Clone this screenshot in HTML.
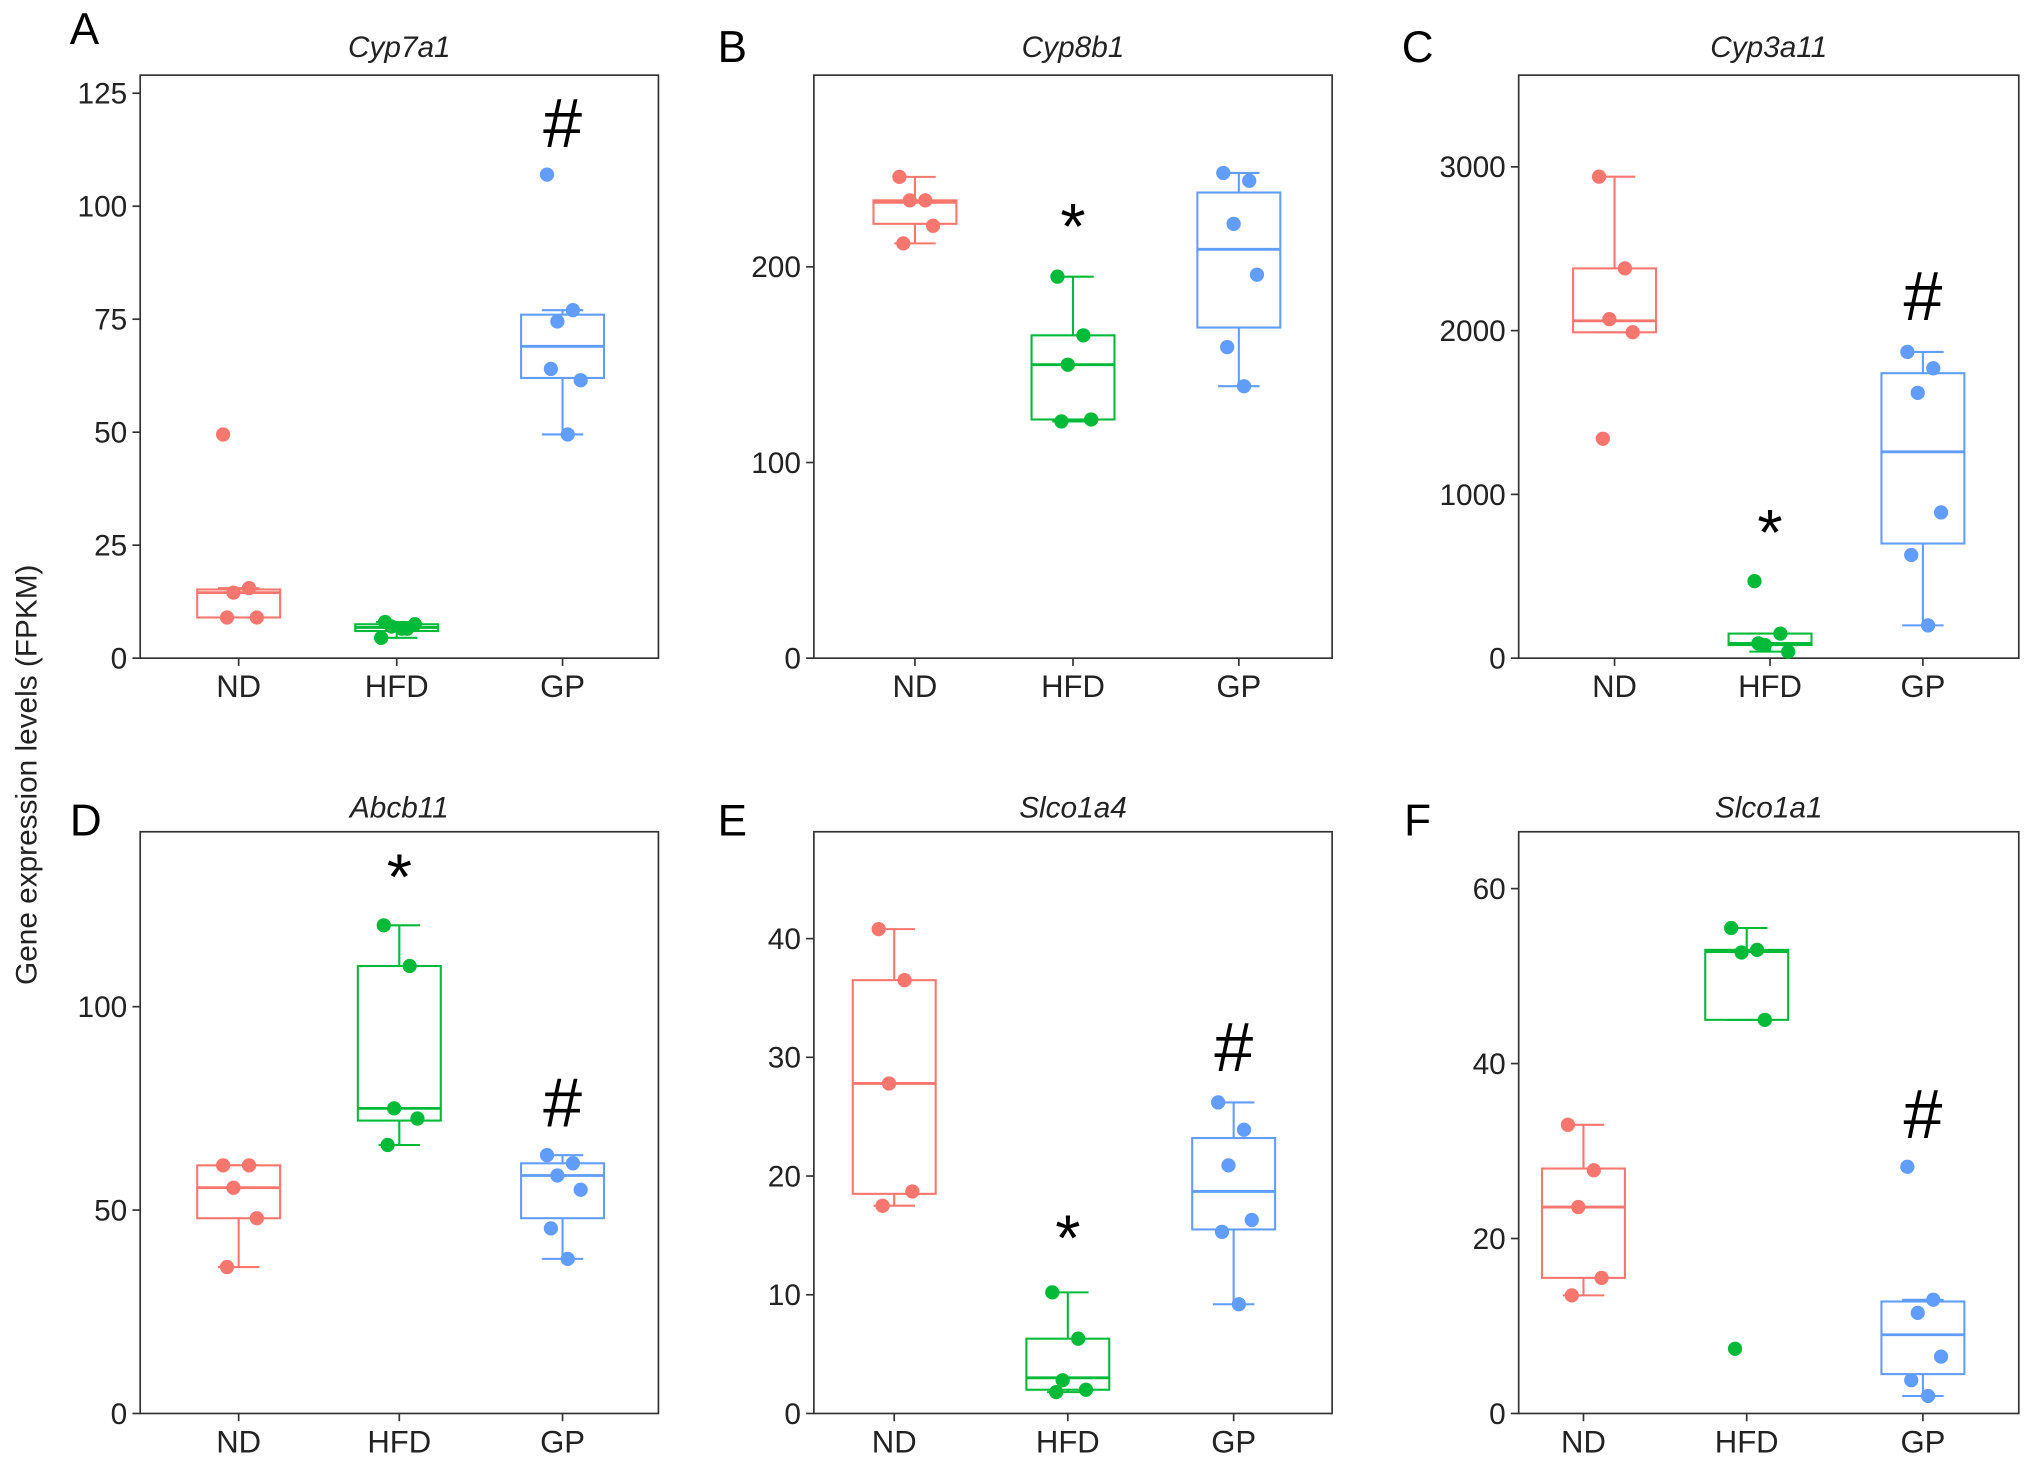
<!DOCTYPE html>
<html><head><meta charset="utf-8"><style>
html,body{margin:0;padding:0;background:#fff;}
svg{display:block;font-family:"Liberation Sans",Arial,sans-serif;}
</style></head><body>
<svg id="fig" width="2032" height="1464" viewBox="0 0 1568 1130" xmlns="http://www.w3.org/2000/svg">
<text x="0" y="0" transform="translate(28,598) rotate(-90)" text-anchor="middle" font-size="23" fill="#222">Gene expression levels (FPKM)</text>
</svg>
<script>
const groups = ["ND","HFD","GP"];
const colors = ["#F8766D","#00BA38","#619CFF"];
const titles = ["Cyp7a1","Cyp8b1","Cyp3a11","Abcb11","Slco1a4","Slco1a1"];
const letters = ["A","B","C","D","E","F"];
const ticksA=[0,25,50,75,100,125], ticksB=[0,100,200], ticksC=[0,1000,2000,3000], ticksD=[0,50,100], ticksE=[0,10,20,30,40], ticksF=[0,20,40,60];
// [lo, q1, median, q3, hi] per group
const statsA=[[9,9,14.5,15.2,15.5],[4.5,6,6.8,7.5,8],[49.5,62,69,76,77]];
const statsB=[[212,222,233,234,246],[121,122,150,165,195],[139,169,209,238,248]];
const statsC=[[1990,1990,2060,2380,2940],[40,80,90,150,150],[200,700,1260,1740,1870]];
const statsD=[[36,48,55.5,61,61],[66,72,75,110,120],[38,48,58.5,61.5,63.5]];
const statsE=[[17.5,18.5,27.8,36.5,40.8],[1.8,2,3,6.3,10.2],[9.2,15.5,18.7,23.2,26.2]];
const statsF=[[13.5,15.5,23.6,28,33],[45,45,52.8,53,55.5],[2,4.5,9,12.8,13]];
const ptsA=[[49.5,15.5,14.5,9,9],[4.5,6.5,7,7.5,8,6.5],[107,77,74.5,61.5,64,49.5]];
const ptsB=[[246,234,234,221,212],[195,165,150,122,121],[248,244,222,196,159,139]];
const ptsC=[[2940,2380,2070,1990,1340],[470,150,80,40,90],[1870,1770,1620,890,630,200]];
const ptsD=[[61,61,55.5,48,36],[120,110,75,72.5,66],[63.5,61.5,58.5,55,45.5,38]];
const ptsE=[[40.8,36.5,27.8,18.7,17.5],[10.2,6.3,2.8,2,1.8],[26.2,23.9,20.9,16.3,15.3,9.2]];
const ptsF=[[33,27.8,23.6,15.5,13.5],[55.5,53,52.7,45,7.4],[28.2,13,11.5,6.5,3.8,2]];
// annotations: [groupIndex, symbol, value]
const annA=[[2,"#",118]], annB=[[1,"*",225]], annC=[[1,"*",820],[2,"#",2200]], annD=[[1,"*",134],[2,"#",76]], annE=[[1,"*",15.5],[2,"#",30.7]], annF=[[2,"#",34]];
const ymaxA=129, ymaxB=298, ymaxC=3560, ymaxD=143, ymaxE=49, ymaxF=66.5;

const layout=[
 {x0:108,x1:508,y0:58,y1:508,cx:[184,306,434],lx:65,ly:34,ty:35},
 {x0:628,x1:1028,y0:58,y1:508,cx:[706,828,956],lx:565,ly:48,ty:35},
 {x0:1172,x1:1558,y0:58,y1:508,cx:[1246,1366,1484],lx:1094,ly:48,ty:35},
 {x0:108,x1:508,y0:642,y1:1091,cx:[184,308,434],lx:66,ly:645,ty:622},
 {x0:628,x1:1028,y0:642,y1:1091,cx:[690,824,952],lx:565,ly:645,ty:622},
 {x0:1172,x1:1558,y0:642,y1:1091,cx:[1222,1348,1484],lx:1094,ly:645,ty:622}
];
const panels=[
 [ticksA,statsA,ptsA,annA,ymaxA],[ticksB,statsB,ptsB,annB,ymaxB],[ticksC,statsC,ptsC,annC,ymaxC],
 [ticksD,statsD,ptsD,annD,ymaxD],[ticksE,statsE,ptsE,annE,ymaxE],[ticksF,statsF,ptsF,annF,ymaxF]
];
const jit=[-12,8,-4,14,-9,4];
const svg=document.getElementById('fig');
const NS="http://www.w3.org/2000/svg";
function mk(tag,attrs,parent){const e=document.createElementNS(NS,tag);for(const k in attrs)e.setAttribute(k,attrs[k]);(parent||svg).appendChild(e);return e;}
panels.forEach((p,i)=>{
 const [ticks,stats,pts,ann,ymax]=p; const L=layout[i];
 const g=mk('g',{});
 
 
 const y=v=>L.y1-(v/ymax)*(L.y1-L.y0);
 const frame=mk('rect',{x:L.x0,y:L.y0,width:L.x1-L.x0,height:L.y1-L.y0,fill:'none',stroke:'#333','stroke-width':1.3},g);
 
 
 const lt=mk('text',{x:L.lx,y:L.ly,'font-size':34,fill:'#000','text-anchor':'middle'},g); lt.textContent=letters[i];
 
 
 const tt=mk('text',{x:(L.x0+L.x1)/2,y:L.ty+9,'font-size':23,'font-style':'italic',fill:'#222','text-anchor':'middle'},g); tt.textContent=titles[i];
 
 
 ticks.forEach(t=>{
  mk('line',{x1:L.x0-6,x2:L.x0,y1:y(t),y2:y(t),stroke:'#333','stroke-width':1.3},g);
  const tx=mk('text',{x:L.x0-10,y:y(t)+8,'font-size':23,fill:'#222','text-anchor':'end'},g); tx.textContent=t;
  
  
 });
 groups.forEach((gr,j)=>{
  const cx=L.cx[j];
  mk('line',{x1:cx,x2:cx,y1:L.y1,y2:L.y1+6,stroke:'#333','stroke-width':1.3},g);
  const xl=mk('text',{x:cx,y:L.y1+30,'font-size':24,fill:'#222','text-anchor':'middle'},g); xl.textContent=gr;
  
  
  const [lo,q1,md,q3,hi]=stats[j]; const c=colors[j];
  const bg=mk('g',{stroke:c,'stroke-width':1.6,fill:'none'},g);
  
  
  mk('line',{x1:cx,x2:cx,y1:y(hi),y2:y(q3)},bg);
  mk('line',{x1:cx,x2:cx,y1:y(q1),y2:y(lo)},bg);
  mk('line',{x1:cx-16,x2:cx+16,y1:y(hi),y2:y(hi)},bg);
  mk('line',{x1:cx-16,x2:cx+16,y1:y(lo),y2:y(lo)},bg);
  mk('rect',{x:cx-32,y:y(q3),width:64,height:Math.max(1,y(q1)-y(q3)),fill:'#fff'},bg);
  mk('line',{x1:cx-32,x2:cx+32,y1:y(md),y2:y(md),'stroke-width':2.2},bg);
  pts[j].forEach((v,k)=>{
   const d=mk('circle',{cx:cx+jit[k%jit.length],cy:y(v),r:5.5,fill:c},g);
   
   
  });
 });
 ann.forEach(a=>{
  const s=a[1]==="#";
  const t=mk('text',{x:L.cx[a[0]],y:y(a[2])+(s?17:24),'font-size':s?54:50,fill:'#000','text-anchor':'middle'},g);
  t.textContent=a[1];
  
  
 });
});
</script>
</body></html>
